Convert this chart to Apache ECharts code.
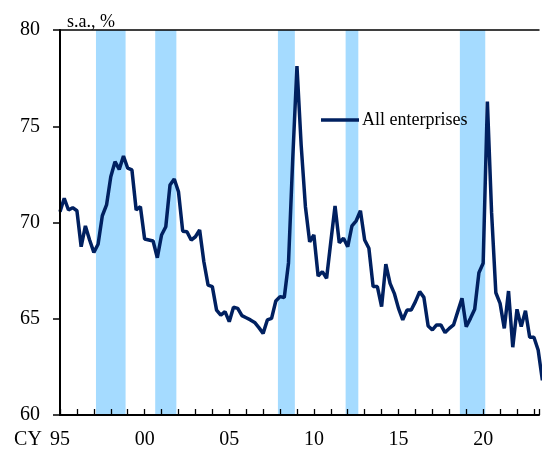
<!DOCTYPE html>
<html>
<head>
<meta charset="utf-8">
<script src="https://cdn.jsdelivr.net/npm/echarts@6/dist/echarts.min.js"></script>
<style>html,body{margin:0;padding:0;background:#fff}#c{width:542px;height:456px}</style>
</head>
<body>
<div id="c"></div>
<script>
// Quarterly series, 1995 Q1 onwards (s.a., %)
var startYear = 1995;
var seriesName = 'All enterprises';
var allEnterprises = [
  70.56, 71.26, 70.65, 70.77,
  70.61, 68.74, 69.82, 69.09,
  68.45, 68.87, 70.35, 70.91,
  72.38, 73.16, 72.76, 73.45,
  72.82, 72.73, 70.65, 70.82,
  69.14, 69.09, 69.04, 68.17,
  69.35, 69.78, 71.95, 72.26,
  71.60, 69.55, 69.52, 69.09,
  69.26, 69.61, 67.96, 66.75,
  66.67, 65.45, 65.19, 65.37,
  64.85, 65.60, 65.54, 65.16,
  65.05, 64.94, 64.81, 64.54,
  64.24, 64.94, 65.02, 65.92,
  66.15, 66.10, 67.90, 73.30,
  78.13, 74.00, 70.82, 69.00,
  69.35, 67.22, 67.45, 67.10,
  69.00, 70.86, 68.95, 69.18,
  68.74, 69.83, 70.09, 70.61,
  69.09, 68.66, 66.67, 66.67,
  65.63, 67.84, 66.84, 66.32,
  65.54, 64.94, 65.45, 65.45,
  65.89, 66.41, 66.11, 64.62,
  64.42, 64.68, 64.68, 64.28,
  64.50, 64.68, 65.37, 66.06,
  64.59, 65.02, 65.49, 67.39,
  67.88, 76.28, 70.50, 66.35,
  65.80, 64.50, 66.44, 63.52,
  65.49, 64.59, 65.42, 64.04,
  64.04, 63.38, 61.80
];
// Shaded periods (start, end) in years
var bandStarts = [1997.125, 2000.625, 2007.875, 2011.875, 2018.625];
var bandEnds   = [1998.875, 2001.875, 2008.875, 2012.625, 2020.125];
var yTicks = [60, 65, 70, 75, 80];
var xMin = 1995, xMax = 2023.3;

var periods = allEnterprises.map(function (v, i) { return startYear + i * 0.25; });
var lineData = allEnterprises.map(function (v, i) { return [periods[i], v]; });
var bandData = bandStarts.map(function (s, i) { return [{ xAxis: s }, { xAxis: bandEnds[i] }]; });

var FONT = '"Liberation Serif", "Times New Roman", serif';
var chart = echarts.init(document.getElementById('c'));
chart.setOption({
  animation: false,
  backgroundColor: '#fff',
  title: {
    text: 's.a., %', left: 62, top: 8,
    textStyle: { fontFamily: FONT, fontSize: 18, fontWeight: 'normal', color: '#000' }
  },
  legend: {
    left: 321, top: 111, padding: 0,
    icon: 'rect', itemWidth: 38, itemHeight: 3.5,
    textStyle: { fontFamily: FONT, fontSize: 18, color: '#000', padding: [0, 0, 0, -2] },
    data: [seriesName]
  },
  grid: { left: 60, right: 0, top: 30, bottom: 41 },
  xAxis: [{
    type: 'value', min: xMin, max: xMax, interval: 1, z: 10,
    splitLine: { show: false },
    axisLine: { lineStyle: { color: '#000', width: 2 } },
    axisTick: { inside: true, length: 6, lineStyle: { color: '#000', width: 1.3 } },
    axisLabel: {
      margin: 15, color: '#000', fontFamily: FONT, fontSize: 20,
      formatter: function (v) {
        if (Math.abs(v % 5) > 1e-6) return '';
        var s = String(Math.round(v) % 100).padStart(2, '0');
        return v === xMin ? '{cy|CY}' + s + '{pad|}' : s;
      },
      rich: {
        cy: { fontFamily: FONT, fontSize: 20, color: '#000', padding: [0, 8, 0, 0] },
        pad: { width: 36 }
      }
    }
  }, {
    type: 'value', min: xMin, max: xMax, position: 'top', z: 10,
    splitLine: { show: false }, axisTick: { show: false }, axisLabel: { show: false },
    axisLine: { lineStyle: { color: '#000', width: 1.5 } }
  }],
  yAxis: {
    type: 'value', min: 60, max: 80, interval: 5, z: 10,
    splitLine: { show: false },
    axisLine: { show: true, lineStyle: { color: '#000', width: 2 } },
    axisTick: { show: true, length: 7, lineStyle: { color: '#000', width: 1.5 } },
    axisLabel: {
      margin: 20, color: '#000', fontFamily: FONT, fontSize: 20,
      formatter: function (v) { return yTicks.indexOf(v) >= 0 ? String(v) : ''; }
    }
  },
  series: [{
    name: 'bands', type: 'line', data: [], z: 1, silent: true,
    markArea: { silent: true, itemStyle: { color: '#a5dbff' }, label: { show: false }, data: bandData }
  }, {
    name: seriesName, type: 'line', data: lineData, z: 3,
    symbol: 'none', clip: true,
    lineStyle: { color: '#002060', width: 3.5 },
    itemStyle: { color: '#002060' }
  }]
});
</script>
</body>
</html>
